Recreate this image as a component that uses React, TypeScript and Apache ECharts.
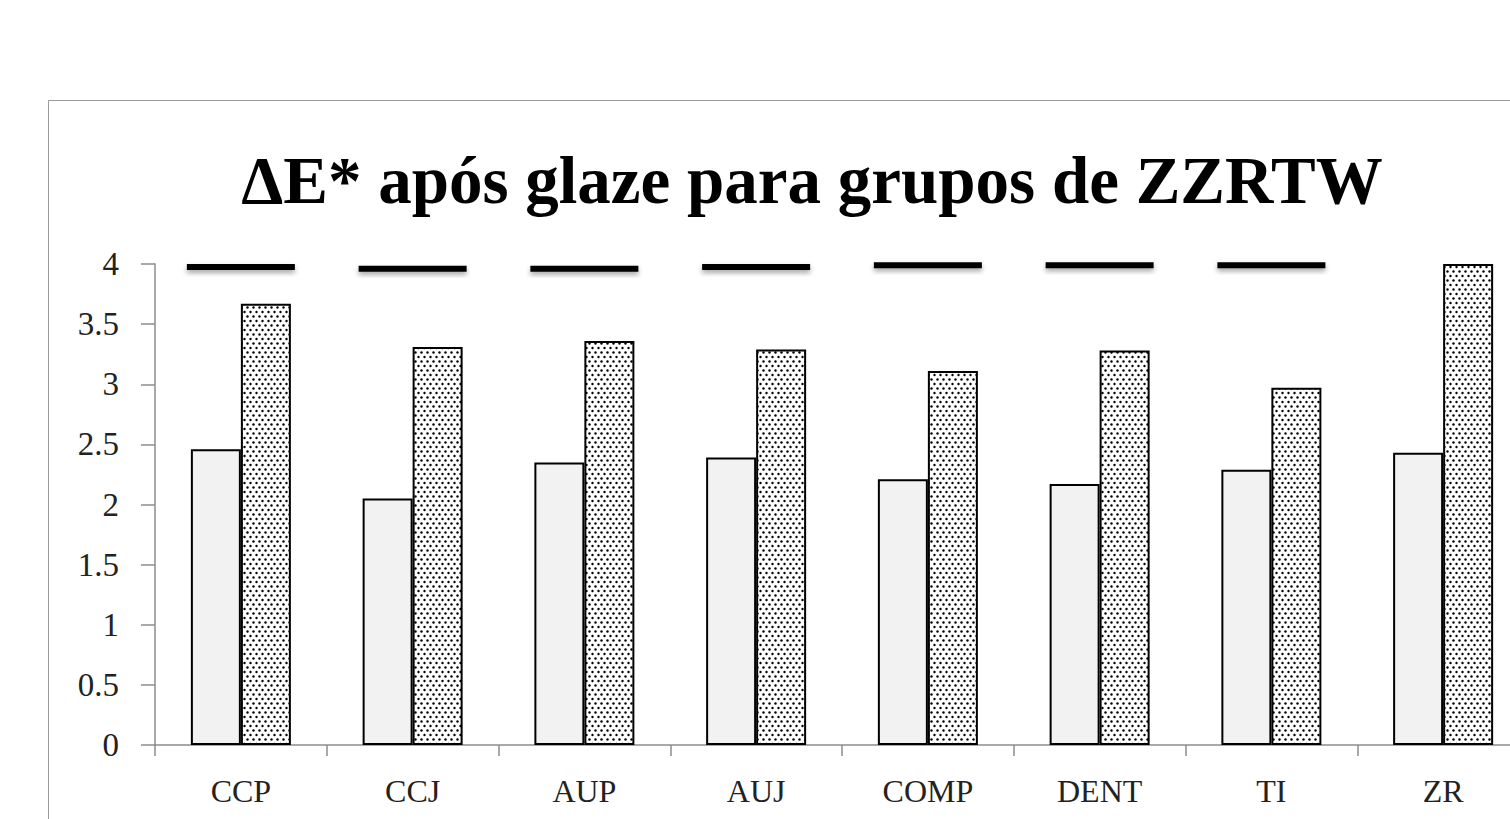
import React, { useEffect, useRef } from "react";
import * as echarts from "echarts";

const categories = ["CCP", "CCJ", "AUP", "AUJ", "COMP", "DENT", "TI", "ZR"];
const plainValues = [2.46, 2.05, 2.35, 2.39, 2.21, 2.17, 2.29, 2.43];
const dottedValues = [3.67, 3.31, 3.36, 3.29, 3.11, 3.28, 2.97, 4.0];
const markCategories = ["CCP", "CCJ", "AUP", "AUJ", "COMP", "DENT", "TI"];
const markValues = [3.975, 3.96, 3.96, 3.975, 3.99, 3.99, 3.99];
const titleText = "ΔE* após glaze para grupos de ZZRTW";

function makeDotPattern(): HTMLCanvasElement {
  const c = document.createElement("canvas");
  c.width = 6;
  c.height = 9;
  const ctx = c.getContext("2d")!;
  ctx.fillStyle = "#ffffff";
  ctx.fillRect(0, 0, 6, 9);
  ctx.fillStyle = "#000000";
  const dots = [
    [1.5, 1.5],
    [4.5, 6],
  ];
  for (const [x, y] of dots) {
    ctx.beginPath();
    ctx.arc(x, y, 1.2, 0, Math.PI * 2);
    ctx.fill();
  }
  return c;
}

export default function App() {
  const ref = useRef<HTMLDivElement>(null);
  useEffect(() => {
    document.body.style.margin = "0";
    const chart = echarts.init(ref.current!, null, { renderer: "svg" });
    const font = "'Liberation Serif', 'Times New Roman', serif";
    const pattern = makeDotPattern();
    chart.setOption({
      animation: false,
      backgroundColor: "#ffffff",
      graphic: [
        {
          type: "rect",
          z: -10,
          shape: { x: 48.5, y: 100.5, width: 1540, height: 800 },
          style: { fill: "none", stroke: "#9a9a9a", lineWidth: 1 },
        },
        {
          type: "text",
          x: 812,
          y: 180,
          style: {
            text: titleText,
            textAlign: "center",
            textVerticalAlign: "middle",
            fontFamily: font,
            fontWeight: "bold",
            fontSize: 67,
            fill: "#000",
          },
        },
      ],
      grid: { left: 155, top: 264, width: 1374, height: 481 },
      xAxis: {
        type: "category",
        data: categories,
        axisLine: { lineStyle: { color: "#8c8c8c", width: 1.5 } },
        axisTick: { show: true, length: 11, alignWithLabel: false, lineStyle: { color: "#8c8c8c", width: 1.5 } },
        axisLabel: { fontFamily: font, fontSize: 32, color: "#222", margin: 30 },
      },
      yAxis: {
        type: "value",
        min: 0,
        max: 4,
        interval: 0.5,
        splitLine: { show: false },
        axisLine: { show: true, lineStyle: { color: "#8c8c8c", width: 1.5 } },
        axisTick: { show: true, length: 14, lineStyle: { color: "#8c8c8c", width: 1.5 } },
        axisLabel: { fontFamily: font, fontSize: 33, color: "#222", margin: 36 },
      },
      series: [
        {
          type: "bar",
          data: plainValues,
          barWidth: 50,
          barGap: "0%",
          itemStyle: { color: "#f2f2f2", borderColor: "#000", borderWidth: 2 },
        },
        {
          type: "bar",
          data: dottedValues,
          barWidth: 50,
          barGap: "0%",
          itemStyle: {
            color: { image: pattern, repeat: "repeat" },
            borderColor: "#000",
            borderWidth: 2,
          },
        },
        {
          type: "scatter",
          data: markCategories.map((c, i) => [c, markValues[i]]),
          symbol: "rect",
          symbolSize: [108, 6],
          z: 5,
          itemStyle: {
            color: "#000",
            opacity: 1,
            shadowBlur: 5,
            shadowOffsetY: 3,
            shadowColor: "rgba(0,0,0,0.35)",
          },
        },
      ],
    });
    return () => chart.dispose();
  }, []);
  return (
    <div style={{ width: 1510, height: 819, overflow: "hidden", position: "relative" }}>
      <div ref={ref} style={{ width: 1560, height: 819 }} />
    </div>
  );
}
